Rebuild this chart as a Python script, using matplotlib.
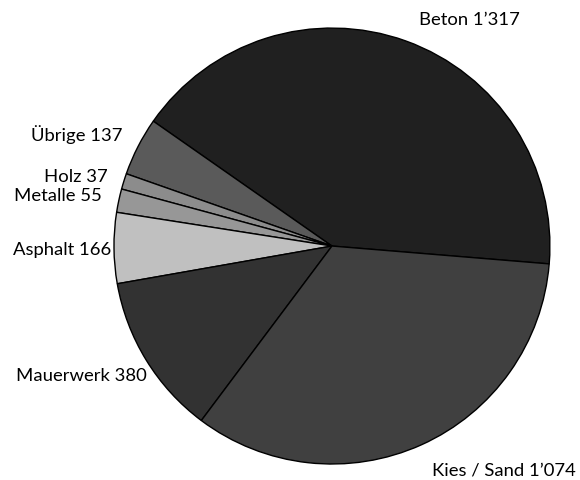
import matplotlib.pyplot as plt

# Bauabfälle nach Material
labels = ['Beton 1’317', 'Übrige 137', 'Holz 37', 'Metalle 55',
          'Asphalt 166', 'Mauerwerk 380', 'Kies / Sand 1’074']
values = [1317, 137, 37, 55, 166, 380, 1074]
colors = ['#202020', '#5a5a5a', '#8c8c8c', '#979797',
          '#c0c0c0', '#323232', '#404040']

# label anchor points (pie radius = 1) and alignment
label_pos = [(0.633, 1.041, 'center'), (-0.963, 0.514, 'right'),
             (-1.028, 0.321, 'right'), (-1.055, 0.234, 'right'),
             (-1.014, -0.014, 'right'), (-0.849, -0.592, 'right'),
             (0.789, -1.023, 'center')]

plt.rcParams['font.family'] = ['Lato', 'DejaVu Sans']

fig = plt.figure(figsize=(5.8, 4.81), dpi=100)
ax = fig.add_axes([0, 0, 1, 1])

start = -4.7
ax.pie(values, colors=colors, startangle=start, counterclock=True,
       radius=1.0, wedgeprops=dict(edgecolor='black', linewidth=1.0))

for lab, (x, y, ha) in zip(labels, label_pos):
    ax.text(x, y, lab, ha=ha, va='center', fontsize=13.3, color='black')

ax.set_xlim(-1.523, 1.138)
ax.set_ylim(-1.073, 1.133)
ax.set_aspect('equal')
ax.axis('off')

fig.savefig('out.png', dpi=100, facecolor='white')
